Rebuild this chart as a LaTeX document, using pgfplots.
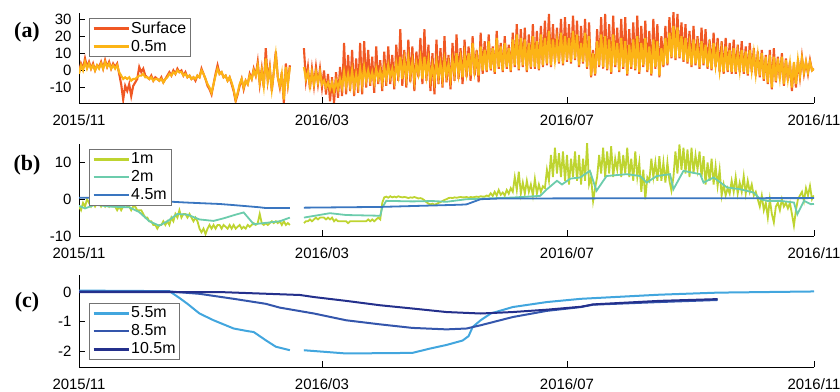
\documentclass[border=0pt]{standalone}
\usepackage{fontspec}
\setmainfont{Liberation Sans}
\newfontfamily\panelfont{Liberation Serif}
\usepackage{pgfplots}
\usepackage{pgfplotstable}
\pgfplotsset{compat=1.18}

\definecolor{cSurf}{RGB}{240,88,36}
\definecolor{cHalf}{RGB}{252,180,22}
\definecolor{cOne}{RGB}{190,212,48}
\definecolor{cTwo}{RGB}{108,204,172}
\definecolor{cFour}{RGB}{58,118,192}
\definecolor{cFive}{RGB}{66,166,222}
\definecolor{cEight}{RGB}{52,86,172}
\definecolor{cTen}{RGB}{36,48,140}

% daily values: d = days since 2015/11/01, s = surface, h = 0.5 m, m = 1 m
\pgfplotstableread{
d s h m
0 -1 -2 -2
1 4 3 -3
2 1 0 -1
3 7 5 -2
4 2 1 0
5 5 4 -1
6 1 1 -2
7 4 3 -1
8 0 0 -2
9 3 3 -1
10 2 1 -1
11 5 4 -2
12 1 1 -1
13 6 5 -2
14 2 2 -1
15 5 4 -2
16 1 1 -1
17 4 3 -2
18 2 1 -2
19 4 3 -3
20 -2 -1 -2
21 -8 -3 -3
22 -17 -5 -2
23 -9 -4 -1
24 -12 -5 -2
25 -8 -4 -2
26 -15 -6 -3
27 -9 -5 -2
28 -7 -5 -2
29 -5 -4 -3
30 2 -3 -3
31 -1 -3 -3
32 1 -2 -4
33 -3 -4 -5
34 -4 -4 -5
35 -5 -5 -6
36 -3 -4 -6
37 -6 -6 -7
38 -4 -5 -7
39 -5 -5 -8
40 -6 -6 -7
41 -4 -5 -7
42 -7 -7 -6
43 -5 -5 -7
44 -3 -4 -6
45 -1 -2 -7
46 -3 -3 -5
47 0 -1 -6
48 -2 -2 -4
49 1 0 -5
50 -1 -1 -3
51 0 -1 -5
52 -3 -3 -4
53 -1 -2 -4
54 -4 -4 -5
55 -3 -3 -4
56 -5 -5 -5
57 -4 -4 -6
58 -6 -5 -5
59 -3 -3 -6
60 -4 -4 -8
61 1 0 -9
62 -2 -2 -8
63 -5 -5 -9.5
64 -9 -8 -8
65 -11 -10 -7
66 -14 -13 -8
67 -8 -8 -7
68 -2 -3 -8
69 3 1 -7
70 -2 -2 -7
71 -1 -1 -8
72 -4 -4 -7
73 -3 -3 -7.5
74 -6 -6 -8
75 -4 -4 -7
76 -8 -7 -8
77 -12 -11 -7
78 -18 -17 -8
79 -14 -13 -7.5
80 -9 -8 -7
81 -5 -5 -8
82 -11 -10 -7.5
83 -6 -6 -8
84 -8 -8 -7
85 -2 -3 -7.5
86 -5 -5 -7
87 1 0 -6.5
88 -3 -3 -7
89 5 3 -6.5
90 -8 -7 -4
91 1 0 -6.5
92 -10 -9 -7
93 13 7 -6.5
94 -6 -6 -7
95 2 1 -6.5
96 -12 -11 -6
97 -1 -1 -6.5
98 11 9 -6
99 -4 -4 -6.5
100 -10 -9 -6
101 -1 -2 -7
102 -19 -17 -6
103 4 2 -7
104 -8 -8 -6.5
105 3 2 -7
106 nan nan nan
111 nan nan nan
112 13 2 -6.5
113 -6 -5 -6
114 2 -1 -6
115 -11 -9 -5.5
116 1 -1 -6
117 -9 -8 -5.5
118 2 -1 -5
119 -8 -7 -5.5
120 1 -1 -5
121 -10 -8 -5
122 0 -6 -5
123 -14 -10 -5.5
124 -2 -7 -5
125 -18 -11 -5.5
126 -4 -7 -5
127 -19 -12 -6
128 -1 -6 -5.5
129 -16 -11 -6
130 2 -5 -6
131 -15 -10 -6
132 16 -1 -6
133 -14 -9 -6
134 9 -2 -6.5
135 -12 -9 -6
136 12 0 -6
137 -15 -10 -6
138 7 -2 -6
139 -13 -9 -6
140 16 1 -6
141 -14 -8 -6
142 17 2 -6
143 -10 -6 -6
144 12 0 -5.5
145 -9 -6 -6
146 8 -1 -5.5
147 -13 -7 -6
148 14 1 -5.5
149 -8 -5 -5
150 6 0 -5.5
151 -12 -7 -1
152 11 2 0.5
153 -9 -5 0.7
154 14 3 0.4
155 -8 -4 0.8
156 9 1 0.5
157 -11 -6 0.7
158 15 4 0.5
159 -6 -3 0.8
160 24 8 0.6
161 -9 -5 0.5
162 12 6 0.6
163 -10 -4 0.5
164 18 7 0.3
165 -7 -3 0.5
166 14 5 0.4
167 -12 -6 0.6
168 11 4 0.4
169 -4 -2 0.2
170 19 7 0.3
171 -8 -5 0.1
172 24 8 -0.3
173 -6 -3 -0.8
174 15 6 -1.2
175 -12 -5 -1.4
176 10 3 -1.2
177 -14 -6 -1.5
178 18 5 -1.3
179 -8 -4 -1
180 13 4 -0.8
181 -10 -5 -0.5
182 20 6 -0.2
183 -7 -3 0
184 9 4 0.3
185 -11 -5 0.4
186 16 6 0.3
187 -6 -2 0.5
188 21 10 0.4
189 -5 -2 0.5
190 13 7 0.6
191 -8 -4 0.5
192 18 9 0.5
193 -4 -1 0.6
194 14 10 0.4
195 -6 -3 0.6
196 20 16 0.5
197 -3 0 0.6
198 12 8 0.7
199 -7 -3 0.6
200 22 14 0.8
201 -2 0 0.7
202 17 12 0.7
203 -1 0 1
204 21 17 0.8
205 0 1 1.6
206 14 13 0.9
207 -2 -1 2
208 23 19 1
209 1 2 2.5
210 16 14 1.2
211 -1 0 1.8
212 20 16 1
213 1 2 2.5
214 15 13 1.5
215 -1 0 3
216 22 18 2
217 2 3 6
218 27 21 2.5
219 0 1 7.5
220 24 19 1.5
221 2 3 4.5
222 25 18 1.5
223 -1 0 5
224 21 16 2
225 1 2 4
226 27 20 1
227 1 2 5.5
228 23 17 1.5
229 0 1 4
230 26 21 2
231 2 3 3.5
232 29 19 3
233 3 4 8
234 33 23 5
235 2 3 12
236 27 18 6
237 5 6 14
238 25 17 7
239 4 5 12.5
240 30 22 6
241 3 4 13
242 31 20 5
243 5 6 12
244 27 19 4
245 4 5 11
246 32 23 6
247 6 7 13
248 29 21 5
249 2 3 12
250 26 16 4
251 4 5 11
252 30 22 5
253 1 2 15.3
254 28 20 4
255 -4 -3 6
256 12 10 -0.5
257 -3 -2 3
258 24 17 6
259 2 3 12
260 31 21 7
261 1 2 14
262 33 20 6
263 0 1 13
264 27 18 7
265 -2 -1 14.4
266 32 21 6
267 2 3 11
268 25 16 8
269 -1 0 13
270 30 19 6
271 1 2 12
272 31 17 7
273 -3 -2 14
274 24 15 6
275 1 2 11
276 28 18 5
277 0 1 13
278 32 20 6
279 -2 -1 10
280 26 16 2
281 2 3 8
282 29 19 0
283 -1 0 6
284 23 14 5
285 -3 -2 11
286 30 18 6
287 1 2 10
288 27 17 5
289 -4 -3 11.7
290 20 13 5
291 2 3 10
292 26 19 4.5
293 3 4 10
294 31 22 5
295 7 8 2.3
296 34 26 6
297 6 7 13
298 33 25 7
299 7 8 14.9
300 28 20 8
301 5 6 14
302 27 19 7
303 4 5 13.5
304 23 15 6
305 2 3 14
306 26 18 7
307 3 4 12
308 20 14 8
309 1 2 13
310 25 17 6
311 3 4 11.7
312 24 15 4
313 1 2 10
314 18 13 5
315 0 1 11
316 22 16 4
317 2 3 9
318 19 12 3.6
319 -1 0 8
320 17 11 1
321 -2 -1 4
322 19 14 1
323 -1 0 3
324 16 12 1.5
325 -2 -1 5
326 18 13 2
327 -2 -1 6
328 15 10 1.5
329 -1 0 4.5
330 17 12 2
331 -2 -1 6.3
332 14 11 1.5
333 -3 -2 5
334 16 12 2
335 -1 0 4
336 13 10 1
337 -3 -2 2
338 11 9 0
339 -4 -3 -2
340 12 10 1
341 -6 -5 -3
342 9 8 -1
343 -8 -7 -5
344 12 9 0
345 -11 -10 -4
346 13 8 -6.3
347 -7 -6 -2
348 8 7 -1
349 -5 -4 -3
350 10 8 0
351 -9 -8 -2
352 7 6 -1
353 -6 -5 -2.5
354 5 4 -1
355 -12 -10 -4
356 4 5 -7.2
357 -10 -8 -3
358 6 6 0
359 -4 -3 1
360 8 7 2
361 -2 -1 -0.5
362 5 5 3
363 -2 -1 1
364 6 5 3.6
365 0 0 0
366 1 1 1
}\daily

\pgfplotsset{
  panel/.style={
    width=735bp, scale only axis,
    xmin=0, xmax=366,
    axis x line*=bottom, axis y line*=left,
    xtick={0,121,243,366},
    xticklabels={2015/11,2016/03,2016/07,2016/11},
    tick align=inside,
    major tick length=6bp,
    tick style={black, line width=0.6bp},
    axis line style={black, line width=0.6bp},
    ticklabel style={font=\fontsize{15}{15}\selectfont},
    xticklabel style={yshift=-8bp},
    yticklabel style={xshift=-4bp},
    /pgf/number format/assume math mode=true,
    unbounded coords=jump,
    legend cell align=left,
    legend style={draw=black!55, line width=0.5bp, fill=white,
      font=\fontsize{16}{16}\selectfont, anchor=north west,
      inner xsep=3bp, inner ysep=2.5bp, row sep=3bp,
      nodes={inner sep=1.2bp, font=\fontsize{16}{16}\selectfont}},
    legend image code/.code={\draw[##1, line width=2.8bp] (0bp,0bp) -- (35bp,0bp);},
  },
}

\begin{document}
\begin{tikzpicture}[x=1bp, y=1bp]
\useasboundingbox (0bp,0bp) rectangle (840bp,392bp);

% (a) surface and 0.5 m
\begin{axis}[panel, at={(79bp,289bp)}, anchor=south west, height=90bp,
  ymin=-19, ymax=33.5, ytick={-10,0,10,20,30},
  legend style={at={(0.0136,0.944)}}]
\addplot[cSurf, line width=2.1bp] table[x=d, y=s] {\daily};
\addplot[cHalf, line width=2.1bp] table[x=d, y=h] {\daily};
\legend{Surface, 0.5m}
\end{axis}

% (b) 1 m, 2 m and 4.5 m
\begin{axis}[panel, at={(79bp,156bp)}, anchor=south west, height=92bp,
  ymin=-10, ymax=15, ytick={-10,0,10},
  legend style={at={(0.0136,0.946)}}]
\addplot[cOne, line width=1.8bp] table[x=d, y=m] {\daily};
\addplot[cTwo, line width=1.8bp] coordinates {
 (0,-1.8) (3,-2.5) (8,-1.5) (15,-2) (25,-2.2) (30,-3.5) (35,-6) (40,-7.2)
 (44,-6) (49,-4) (54,-4.2) (60,-5.5) (67,-5.9) (72,-5.2) (78,-4.2) (82,-3.6)
 (87,-6.8) (92,-6.5) (100,-6) (105,-5) (106,nan)
 (112,-5) (125,-3.8) (133,-4.3) (150,-4.5) (151,-2.3) (153,-0.45) (166,-0.6)
 (176,-0.5) (183,-0.7) (193,0) (216,0.45) (229.6,0.9) (233,2.7) (238,5)
 (240.5,4) (244.7,5.6) (249.5,5.9) (254.4,7.7) (257.7,2.3) (262.7,6.3)
 (272.7,6.8) (279.4,6.3) (282.7,4.5) (287.7,6.3) (294.3,6.8) (296,2.7)
 (301,7.7) (309.3,6.8) (311,4.5) (316,5.9) (322.7,3.2) (329.3,2.7) (336,1.8)
 (339.3,0) (342.7,-0.45) (349.3,-0.45) (356,-0.9) (357.7,-4.1) (361,-0.45)
 (364.3,-1.35) (366,-1.3)};
\addplot[cFour, line width=1.8bp] coordinates {
 (0,0.4) (20,0.3) (40,-0.5) (53,-0.9) (70,-1.3) (77,-1.6) (90,-2.2)
 (93,-2.4) (105,-2.4) (106,nan)
 (112,-2.3) (150,-2.1) (190,-1.5) (193,-1.4) (200,0) (210,0.2) (366,0.3)};
\legend{1m, 2m, 4.5m}
\end{axis}

% (c) 5.5 m, 8.5 m and 10.5 m
\begin{axis}[panel, at={(79bp,25bp)}, anchor=south west, height=92bp,
  ymin=-2.55, ymax=0.58, ytick={-2,-1,0},
  legend style={at={(0.0136,0.696)}}]
\addplot[cFive, line width=2bp] coordinates {
 (0,0.05) (45,0.03) (50,-0.2) (54,-0.4) (60,-0.73) (67,-0.96) (77,-1.24)
 (84,-1.33) (87,-1.36) (93,-1.64) (98,-1.86) (105,-1.98) (106,nan)
 (112,-1.98) (133,-2.09) (166,-2.07) (175,-1.92) (183,-1.8) (191,-1.65)
 (194,-1.5) (196,-1.19) (200,-0.96) (205,-0.73) (216,-0.51) (233,-0.34)
 (250,-0.23) (289,-0.09) (318,-0.02) (366,0.02)};
\addplot[cEight, line width=2bp] coordinates {
 (0,0.02) (45,0.02) (60,-0.06) (77,-0.23) (93,-0.4) (100,-0.53) (117,-0.73)
 (133,-0.96) (150,-1.1) (166,-1.22) (183,-1.27) (193,-1.24) (200,-1.13)
 (216,-0.85) (233,-0.64) (250,-0.51) (256,-0.43) (289,-0.34) (318,-0.27)};
\addplot[cTen, line width=2bp] coordinates {
 (0,0) (70,0) (90,-0.05) (110,-0.1) (117,-0.17) (133,-0.3) (150,-0.45)
 (166,-0.56) (183,-0.68) (200,-0.73) (216,-0.68) (233,-0.6) (250,-0.5)
 (256,-0.42) (289,-0.3) (318,-0.24)};
\legend{5.5m, 8.5m, 10.5m}
\end{axis}

\node[font=\panelfont\bfseries\fontsize{22}{22}\selectfont] at (27bp,360bp) {(a)};
\node[font=\panelfont\bfseries\fontsize{22}{22}\selectfont] at (27bp,227bp) {(b)};
\node[font=\panelfont\bfseries\fontsize{22}{22}\selectfont] at (27bp,90bp) {(c)};
\end{tikzpicture}
\end{document}
